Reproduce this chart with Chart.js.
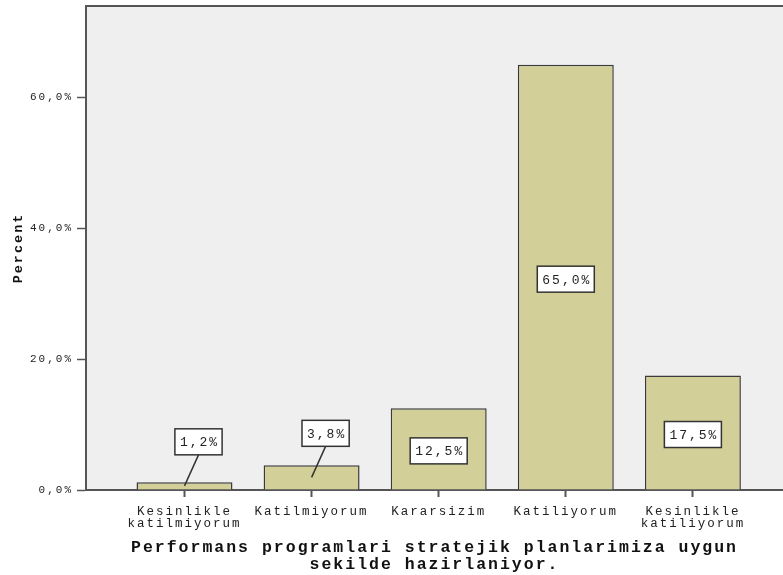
<!DOCTYPE html>
<html>
<head>
<meta charset="utf-8">
<script src="https://cdn.jsdelivr.net/npm/chart.js@4.4.0/dist/chart.umd.min.js"></script>
<style>
  html, body { margin: 0; padding: 0; background: #fff; }
  #wrap { width: 783px; height: 575px; position: relative; }
</style>
</head>
<body>
<div id="wrap"><canvas id="bar-chart"></canvas></div>
<script>
const answers = [['Kesinlikle', 'katilmiyorum'], 'Katilmiyorum', 'Kararsizim', 'Katiliyorum', ['Kesinlikle', 'katiliyorum']];
const percents = [1.2, 3.8, 12.5, 65.0, 17.5];
const yTicks = [0, 20, 40, 60];
const xTitle = ['Performans programlari stratejik planlarimiza uygun', 'sekilde hazirlaniyor.'];
const yTitle = 'Percent';

const mono = 'Liberation Mono';
const axisColor = '#555';
const textColor = '#222';

function fmt(v) {
    return v.toFixed(1).replace('.', ',') + '%';
}

// grey plot background, top frame line and the boxed value labels
const spssLook = {
    id: 'spssLook',
    beforeLayout(chart) {
        chart.ctx.letterSpacing = '2px';
    },
    beforeDraw(chart) {
        const ctx = chart.ctx;
        const a = chart.chartArea;
        ctx.letterSpacing = '2px';
        ctx.save();
        ctx.fillStyle = '#efefef';
        ctx.fillRect(a.left, a.top, a.right - a.left, a.bottom - a.top);
        ctx.strokeStyle = axisColor;
        ctx.lineWidth = 2;
        ctx.beginPath();
        ctx.moveTo(a.left, a.top);
        ctx.lineTo(a.right, a.top);
        ctx.stroke();
        ctx.restore();
    },
    afterDatasetsDraw(chart) {
        const ctx = chart.ctx;
        const bars = chart.getDatasetMeta(0).data;
        ctx.save();
        ctx.letterSpacing = '2px';
        ctx.font = '13px "' + mono + '"';
        ctx.textAlign = 'center';
        ctx.textBaseline = 'middle';
        bars.forEach((bar, i) => {
            const text = fmt(percents[i]);
            const w = ctx.measureText(text).width + 8;
            const h = 26;
            const mid = (bar.y + bar.base) / 2;
            let cx = bar.x;
            let cy = mid + 2;
            ctx.strokeStyle = '#333';
            ctx.lineWidth = 1.5;
            if (bar.base - bar.y < h + 10) {
                // too short for the label: put it above with a leader line
                cx = bar.x + 14;
                cy = mid - 31 - h / 2;
                ctx.beginPath();
                ctx.moveTo(cx, cy + h / 2);
                ctx.lineTo(bar.x, mid);
                ctx.stroke();
            }
            ctx.fillStyle = '#fff';
            ctx.fillRect(cx - w / 2, cy - h / 2, w, h);
            ctx.strokeRect(cx - w / 2, cy - h / 2, w, h);
            ctx.fillStyle = textColor;
            ctx.fillText(text, cx + 1, cy + 1);
        });
        ctx.restore();
    }
};

const ctx = document.getElementById('bar-chart').getContext('2d');
new Chart(ctx, {
    type: 'bar',
    data: {
        datasets: [{
            label: yTitle,
            data: percents.map((v, i) => ({ x: i, y: v })),
            backgroundColor: '#d3cf98',
            borderColor: '#3a3a3a',
            borderWidth: 1.5,
            categoryPercentage: 1,
            barPercentage: 0.755
        }]
    },
    options: {
        responsive: true,
        maintainAspectRatio: false,
        animation: false,
        layout: { padding: { top: 6, left: 0, right: 0, bottom: 0 } },
        plugins: {
            legend: { display: false },
            tooltip: { enabled: false }
        },
        scales: {
            x: {
                type: 'linear',
                offset: false,
                min: -0.775,
                max: 4.709,
                afterBuildTicks: s => { s.ticks = answers.map((a, i) => ({ value: i })); },
                afterFit: s => {
                    s.height = 85;
                    s.paddingLeft = 0;
                    s.paddingRight = 0;
                },
                grid: { offset: false, drawOnChartArea: false, tickLength: 7, tickColor: axisColor, tickWidth: 2 },
                border: { color: axisColor, width: 2 },
                ticks: {
                    padding: 8,
                    autoSkip: false,
                    maxRotation: 0,
                    color: textColor,
                    font: { family: mono, size: 12.5, lineHeight: 1 },
                    callback: v => answers[v]
                },
                title: {
                    display: true,
                    text: xTitle,
                    color: '#111',
                    font: { family: mono, size: 16.5, weight: 'bold', lineHeight: 1 },
                    padding: { top: 0, bottom: 2 }
                }
            },
            y: {
                min: 0,
                max: 74,
                afterBuildTicks: s => { s.ticks = yTicks.map(v => ({ value: v })); },
                afterFit: s => {
                    s.width = 86;
                    s.paddingTop = 0;
                    s.paddingBottom = 0;
                },
                grid: { drawOnChartArea: false, tickLength: 9, tickColor: axisColor, tickWidth: 1.5 },
                border: { color: axisColor, width: 2 },
                ticks: {
                    padding: 4,
                    color: textColor,
                    font: { family: mono, size: 11 },
                    callback: v => fmt(v)
                },
                title: {
                    display: true,
                    text: yTitle,
                    color: '#111',
                    font: { family: mono, size: 13.5, weight: 'bold' },
                    padding: { top: 10, bottom: 0 }
                }
            }
        }
    },
    plugins: [spssLook]
});
</script>
</body>
</html>
